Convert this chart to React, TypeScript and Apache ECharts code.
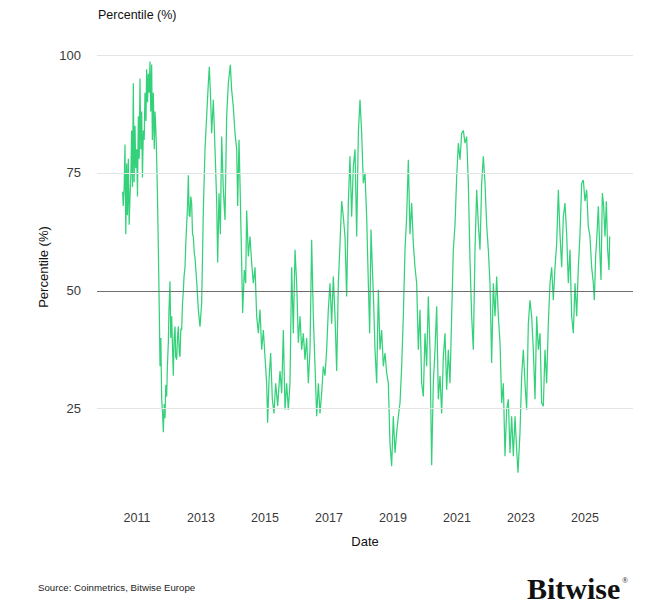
import React, { useEffect, useRef } from "react";
import * as echarts from "echarts";

// Decimal year of each observation
const years = [
  2010.552, 2010.57, 2010.6, 2010.625, 2010.65, 2010.677, 2010.7, 2010.729, 2010.755, 2010.781,
  2010.81, 2010.833, 2010.86, 2010.885, 2010.91, 2010.938, 2010.96, 2010.99, 2011.015, 2011.042,
  2011.07, 2011.094, 2011.12, 2011.146, 2011.17, 2011.198, 2011.225, 2011.25, 2011.28, 2011.302,
  2011.33, 2011.354, 2011.38, 2011.406, 2011.43, 2011.458, 2011.48, 2011.51, 2011.54, 2011.563,
  2011.59, 2011.615, 2011.64, 2011.667, 2011.698, 2011.719, 2011.745, 2011.771, 2011.8, 2011.823,
  2011.85, 2011.875, 2011.9, 2011.927, 2011.95, 2011.979, 2012.0, 2012.031, 2012.055, 2012.083,
  2012.11, 2012.135, 2012.16, 2012.188, 2012.21, 2012.24, 2012.265, 2012.292, 2012.32, 2012.344,
  2012.37, 2012.396, 2012.42, 2012.448, 2012.47, 2012.5, 2012.525, 2012.552, 2012.58, 2012.604,
  2012.63, 2012.656, 2012.68, 2012.708, 2012.735, 2012.76, 2012.79, 2012.813,
  2012.865, 2012.917, 2012.969, 2013.021, 2013.073, 2013.125, 2013.177, 2013.229, 2013.26, 2013.302,
  2013.333, 2013.385, 2013.438, 2013.49, 2013.521, 2013.563, 2013.604, 2013.646, 2013.698, 2013.75,
  2013.802, 2013.854, 2013.917, 2013.958, 2014.01, 2014.063, 2014.115, 2014.146, 2014.188, 2014.219,
  2014.271, 2014.302, 2014.354, 2014.396, 2014.427, 2014.479, 2014.531, 2014.583, 2014.635, 2014.688,
  2014.74, 2014.792, 2014.844, 2014.896, 2014.948, 2015.0, 2015.052, 2015.083, 2015.125, 2015.177,
  2015.229, 2015.281, 2015.333, 2015.396, 2015.469, 2015.521, 2015.573,
  2015.625, 2015.677, 2015.729, 2015.781, 2015.833, 2015.885, 2015.938, 2015.99, 2016.042, 2016.094,
  2016.146, 2016.198, 2016.25, 2016.302, 2016.354, 2016.406, 2016.458, 2016.51, 2016.563, 2016.615,
  2016.667, 2016.719, 2016.771, 2016.823, 2016.875, 2016.927, 2016.979, 2017.031, 2017.083, 2017.135,
  2017.188, 2017.24, 2017.292, 2017.344, 2017.396, 2017.448, 2017.5, 2017.552, 2017.604, 2017.656,
  2017.708, 2017.76, 2017.813, 2017.865, 2017.917, 2017.969, 2018.021, 2018.073, 2018.125,
  2018.177, 2018.229, 2018.271, 2018.313, 2018.354, 2018.396, 2018.438, 2018.49, 2018.542, 2018.594,
  2018.646, 2018.698, 2018.75, 2018.802, 2018.854, 2018.906, 2018.958, 2019.01, 2019.063, 2019.115,
  2019.167, 2019.219, 2019.271, 2019.323, 2019.375, 2019.427, 2019.479, 2019.531, 2019.583, 2019.635,
  2019.688, 2019.74, 2019.792, 2019.844, 2019.896, 2019.948, 2020.0, 2020.052, 2020.104, 2020.156,
  2020.208, 2020.26, 2020.313, 2020.365, 2020.417, 2020.469, 2020.521, 2020.573, 2020.625, 2020.677,
  2020.729, 2020.781, 2020.833,
  2020.885, 2020.938, 2020.99, 2021.042, 2021.094, 2021.146, 2021.198, 2021.25, 2021.302, 2021.354,
  2021.406, 2021.458, 2021.51, 2021.563, 2021.615, 2021.667, 2021.719, 2021.771, 2021.823, 2021.875,
  2021.927, 2021.979, 2022.031, 2022.083, 2022.135, 2022.188, 2022.24, 2022.292, 2022.344, 2022.396,
  2022.448, 2022.5, 2022.552, 2022.604, 2022.656, 2022.708, 2022.76, 2022.813, 2022.865, 2022.906,
  2022.969, 2023.021, 2023.073, 2023.125, 2023.177, 2023.229, 2023.281, 2023.333, 2023.385, 2023.438,
  2023.49, 2023.542,
  2023.594, 2023.646, 2023.698, 2023.75, 2023.802, 2023.854, 2023.906, 2023.958, 2024.01, 2024.063,
  2024.115, 2024.167, 2024.219, 2024.271, 2024.323, 2024.375, 2024.427, 2024.479, 2024.531, 2024.583,
  2024.635, 2024.688, 2024.74, 2024.792, 2024.844, 2024.896, 2024.948, 2025.0, 2025.052, 2025.104,
  2025.156, 2025.208, 2025.26, 2025.292, 2025.333, 2025.375, 2025.417, 2025.469, 2025.5, 2025.542,
  2025.583, 2025.625, 2025.667, 2025.708, 2025.75, 2025.771,
];

// Percentile (%) at each observation
const values = [
  71, 68, 72, 81, 62, 77, 66, 78, 64, 70,
  75, 84, 72, 94, 73, 85, 76, 80, 70, 87,
  78, 95, 80, 88, 74, 84, 82, 92, 86, 97,
  90, 96, 92, 98.6, 88, 98, 82, 92, 80, 88,
  84, 78, 70, 59, 45, 34, 40, 27, 24, 20,
  26, 23, 30, 27.6, 34, 39, 46, 52, 40, 44.6,
  38, 32, 40, 42.4, 36, 35.4, 40, 42.4, 37, 36,
  42, 41.7, 47, 50, 53, 55, 60, 64, 68, 74.5,
  66, 65.7, 70, 68.6, 62, 61.5, 58, 57,
  52, 46, 42.4, 47.4, 67, 80, 87, 94, 97.5, 90.5,
  83.4, 90.5, 80, 69, 56, 70.7, 62, 82.7, 71.4, 65,
  87, 94, 97.9, 92.6, 89, 83.4, 80, 68, 82, 72.8,
  55.9, 45.3, 54.4, 51.6, 67, 57.3, 61.5, 55.9, 51.6, 55,
  44.6, 41, 46, 37.5, 41.7, 36, 30.4, 22, 31, 36.8,
  27, 24, 30.4, 25.6, 33, 28.3, 41.7,
  24.8, 30.4, 24.8, 30.4, 55, 41, 58.7, 51.6, 39, 44.6,
  37.5, 41, 35.4, 40, 30.4, 37.5, 60.8, 44.6, 34, 23.4,
  30.4, 24, 28.3, 34, 32, 37.5, 46, 51.6, 43, 53,
  44.6, 33, 51.6, 60, 69, 65.7, 61.5, 48.8, 68.6, 78.5,
  65.7, 76.3, 80, 61.5, 83.4, 90.5, 83.4, 72.8, 75,
  65.7, 51.6, 41, 63, 55, 47.4, 37.5, 30.4, 50.2, 37.5,
  41.7, 34, 36.8, 32.6, 30.4, 17.7, 12.8, 23.4, 15.6, 20,
  23.4, 26.2, 34, 44.6, 58.7, 65.7, 77.8, 62, 68.6, 60,
  55, 51.6, 37.5, 46, 30.4, 27.6, 41, 34, 48.8, 37.5,
  13, 30.4, 37.5, 46.7, 27, 32, 24, 36, 41, 29,
  37.5, 30.4, 44.6,
  58.7, 64, 74.2, 81.3, 77.8, 83.4, 84, 81.3, 82.7, 72.8,
  56.6, 44.6, 37.5, 58.7, 71.4, 64, 58.7, 72.8, 78.5, 72.8,
  64, 58.7, 51.6, 34.7, 51.6, 44.6, 53, 44.6, 39, 26.2,
  30.4, 14.9, 24.8, 27, 15.6, 23.4, 14.9, 23.4, 16.3, 11.4,
  20, 32, 37.5, 30.4, 24.8, 43, 48, 44.6, 37.5, 27,
  44.6, 37.5,
  41, 26.2, 25.5, 37.5, 30.4, 43, 51.6, 55, 48, 55,
  60, 71.4, 62, 55, 65.7, 68.6, 62, 51.6, 58.7, 44.6,
  41, 51.6, 44.6, 55, 62, 72.8, 73.5, 69, 71.4, 63.6,
  61.5, 55, 51.6, 48, 57.3, 62, 67.9, 57.3, 52.3, 70.7,
  67.9, 61.5, 69, 58.7, 54.4, 61.5,
];

const xTickYears = [2011, 2013, 2015, 2017, 2019, 2021, 2023, 2025];
const yTickValues = [25, 50, 75, 100];
const lightGridValues = [25, 75, 100];
const referenceValue = 50;

const FONT = '"Liberation Sans", Arial, Helvetica, sans-serif';

export default function App() {
  const ref = useRef<HTMLDivElement>(null);

  useEffect(() => {
    if (!ref.current) return;
    const chart = echarts.init(ref.current, null, { renderer: "svg" });
    const seriesData = years.map((y, i) => [y, values[i]]);

    chart.setOption({
      animation: false,
      backgroundColor: "#ffffff",
      textStyle: { fontFamily: FONT },
      grid: { left: 97, right: 38, top: 55, bottom: 109 },
      xAxis: {
        type: "value",
        min: 2009.75,
        max: 2026.5,
        splitLine: { show: false },
        axisLine: { show: false },
        axisTick: { show: false },
        axisLabel: {
          customValues: xTickYears,
          formatter: (v: number) => String(Math.round(v)),
          color: "#3a3a3a",
          fontSize: 12.5,
          fontFamily: FONT,
          margin: 8,
        },
        name: "Date",
        nameLocation: "middle",
        nameGap: 32,
        nameTextStyle: { color: "#111", fontSize: 13, fontFamily: FONT },
      },
      yAxis: {
        type: "value",
        min: 5,
        max: 100,
        splitLine: { show: false },
        axisLine: { show: false },
        axisTick: { show: false },
        axisLabel: {
          customValues: yTickValues,
          color: "#3a3a3a",
          fontSize: 13,
          fontFamily: FONT,
          margin: 16,
        },
      },
      series: [
        {
          type: "line",
          data: [],
          z: 1,
          silent: true,
          markLine: {
            silent: true,
            symbol: "none",
            label: { show: false },
            data: lightGridValues.map((v) => ({
              yAxis: v,
              lineStyle: { color: "#e4e4e4", width: 1, type: "solid" },
            })),
          },
        },
        {
          type: "line",
          data: seriesData,
          z: 2,
          showSymbol: false,
          symbol: "none",
          lineStyle: { color: "#33d17a", width: 1.25 },
          markLine: {
            silent: true,
            symbol: "none",
            label: { show: false },
            data: [
              {
                yAxis: referenceValue,
                lineStyle: { color: "#6f6f6f", width: 1, type: "solid" },
              },
            ],
          },
        },
      ],
      graphic: [
        {
          type: "text",
          x: 98,
          y: 15,
          style: {
            text: "Percentile (%)",
            fontSize: 12.5,
            fontFamily: FONT,
            fill: "#111",
            verticalAlign: "middle",
          },
        },
        {
          type: "text",
          x: 43,
          y: 267,
          rotation: Math.PI / 2,
          style: {
            text: "Percentile (%)",
            fontSize: 13,
            fontFamily: FONT,
            fill: "#111",
            align: "center",
            verticalAlign: "middle",
          },
        },
        {
          type: "text",
          x: 38,
          y: 587,
          style: {
            text: "Source: Coinmetrics, Bitwise Europe",
            fontSize: 9.7,
            fontFamily: FONT,
            fill: "#222",
            verticalAlign: "middle",
          },
        },
        {
          type: "text",
          x: 527,
          y: 588,
          style: {
            text: "Bitwise",
            font: 'bold 30px "Liberation Serif", "Times New Roman", serif',
            fill: "#111",
            verticalAlign: "middle",
          },
        },
        {
          type: "text",
          x: 622,
          y: 580,
          style: {
            text: "®",
            font: '8px "Liberation Serif", serif',
            fill: "#111",
            verticalAlign: "middle",
          },
        },
      ],
    });

    return () => chart.dispose();
  }, []);

  return (
    <div
      ref={ref}
      style={{ position: "fixed", left: 0, top: 0, width: 671, height: 612, background: "#fff" }}
    />
  );
}
